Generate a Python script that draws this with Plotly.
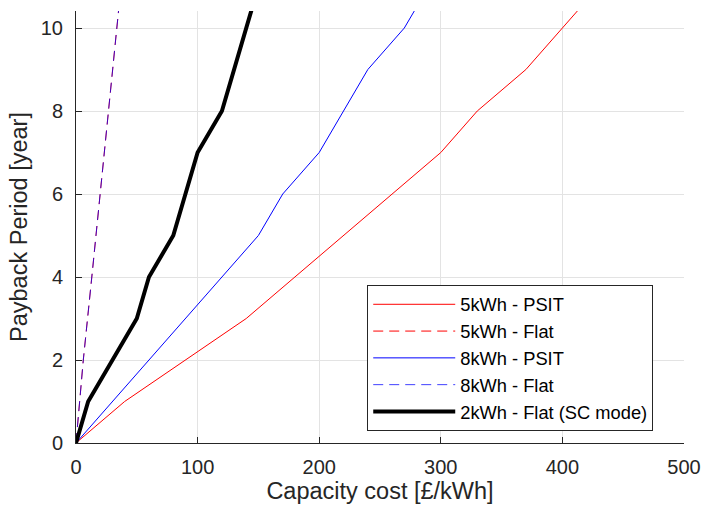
import plotly.graph_objects as go

# Data
psit5_x = [0, 40, 140, 200, 300, 330, 370, 400, 430]
psit5_y = [0, 1, 3, 4.5, 7, 8, 9, 10, 11]
flat5_x = [0, 6, 13, 20, 27, 34, 37]
flat5_y = [0, 2, 4, 6, 8, 10, 11]
psit8_x = [0, 150, 170, 200, 240, 270, 290]
psit8_y = [0, 5, 6, 7, 9, 10, 11]
flat8_x = [0, 6, 13, 20, 27, 34, 37]
flat8_y = [0, 2, 4, 6, 8, 10, 11]
sc2_x = [0, 10, 50, 60, 80, 100, 120, 140, 150]
sc2_y = [0, 1, 3, 4, 5, 7, 8, 10, 11]

x_ticks = [0, 100, 200, 300, 400, 500]
y_ticks = [0, 2, 4, 6, 8, 10]

FONT = "Liberation Sans, Arial, sans-serif"

fig = go.Figure()
fig.add_trace(go.Scatter(x=psit5_x, y=psit5_y, mode="lines", name="5kWh - PSIT",
                         line=dict(color="#ff0000", width=1)))
fig.add_trace(go.Scatter(x=flat5_x, y=flat5_y, mode="lines", name="5kWh - Flat",
                         line=dict(color="#ff0000", width=1, dash="10px,6px")))
fig.add_trace(go.Scatter(x=psit8_x, y=psit8_y, mode="lines", name="8kWh - PSIT",
                         line=dict(color="#0000ff", width=1)))
fig.add_trace(go.Scatter(x=flat8_x, y=flat8_y, mode="lines", name="8kWh - Flat",
                         line=dict(color="#0000ff", width=1, dash="10px,6px"), opacity=0.75))
fig.add_trace(go.Scatter(x=sc2_x, y=sc2_y, mode="lines", name="2kWh - Flat (SC mode)",
                         line=dict(color="#000000", width=4)))

axis_common = dict(
    showline=True, linecolor="#262626", linewidth=1, mirror=False,
    ticks="inside", ticklen=6, tickcolor="#262626",
    showgrid=True, gridcolor="#e3e3e3", gridwidth=1, zeroline=False,
    automargin=False,
    tickfont=dict(family=FONT, size=20, color="#262626"),
)

fig.update_layout(
    width=702, height=514,
    margin=dict(l=76, r=18, t=11, b=71),
    paper_bgcolor="white", plot_bgcolor="white",
    font=dict(family=FONT, color="#262626"),
    xaxis=dict(range=[0, 500], tickvals=x_ticks, ticklabelstandoff=6,
               title=dict(text="Capacity cost [£/kWh]", font=dict(size=23.5, color="#262626"), standoff=5),
               **axis_common),
    yaxis=dict(range=[0, 10.41], tickvals=y_ticks, ticklabelstandoff=8,
               title=dict(text="Payback Period [year]", font=dict(size=23.5, color="#262626"), standoff=6),
               **axis_common),
    legend=dict(x=0.479, y=0.366, xanchor="left", yanchor="top",
                bgcolor="white", bordercolor="#262626", borderwidth=1,
                itemwidth=82,
                font=dict(family=FONT, size=18.3, color="#000000"), tracegroupgap=0),
    showlegend=True,
)

fig.write_html("out.html")
